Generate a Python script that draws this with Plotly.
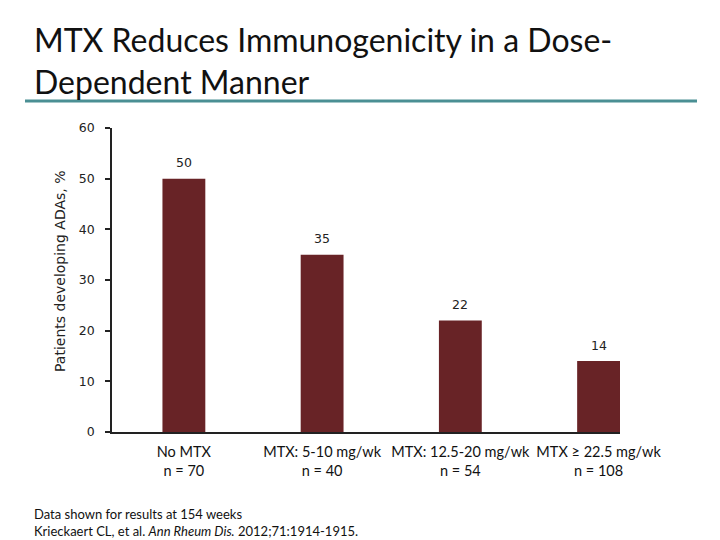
import plotly.graph_objects as go

categories = ["No MTX<br>n = 70", "MTX: 5-10 mg/wk<br>n = 40", "MTX: 12.5-20 mg/wk<br>n = 54", "MTX \u2265 22.5 mg/wk<br>n = 108"]
values = [50, 35, 22, 14]
y_ticks = [0, 10, 20, 30, 40, 50, 60]

OFF = 8  # browser body margin
W, H = 720 - OFF, 540 - OFF
L, R, T, B = 112 - OFF, 620 - OFF, 128 - OFF, 432 - OFF


def px(x):
    return (x - OFF - L) / (R - L)


def py(y):
    return (B - (y - OFF)) / (B - T)


fig = go.Figure()
fig.add_trace(go.Bar(
    x=list(range(len(categories))),
    y=values,
    width=0.31,
    marker=dict(color="#682326", line=dict(width=0)),
    cliponaxis=False,
))

fig.update_layout(
    width=W, height=H,
    margin=dict(l=L, r=W - R, t=T, b=H - B, pad=0),
    paper_bgcolor="white", plot_bgcolor="white",
    showlegend=False,
)
fig.update_xaxes(
    range=[-0.52, 3.155],
    tickmode="array",
    tickvals=list(range(len(categories))),
    ticktext=categories,
    showline=True, linecolor="#222222", linewidth=1.5,
    ticks="", showgrid=False, zeroline=False,
    tickfont=dict(family="Lato", size=14.5, color="#111111"),
    ticklabelstandoff=6,
)
fig.update_yaxes(
    range=[0, 60],
    tickmode="array", tickvals=y_ticks,
    showline=True, linecolor="#222222", linewidth=1.5,
    ticks="outside", ticklen=5, tickcolor="#222222", tickwidth=1.5,
    showgrid=False, zeroline=False,
    tickfont=dict(family="DejaVu Sans", size=12.5, color="#222222"),
    ticklabelstandoff=8,
)

annotations = [
    dict(text="MTX Reduces Immunogenicity in a Dose-<br>Dependent Manner",
         x=px(32), y=py(18), xref="paper", yref="paper",
         xanchor="left", yanchor="top", align="left", showarrow=False,
         font=dict(family="Lato", size=32, color="#111111")),
    dict(text="Patients developing ADAs, %",
         x=px(60), y=py(271), xref="paper", yref="paper",
         xanchor="center", yanchor="middle", textangle=-90, showarrow=False,
         font=dict(family="DejaVu Sans", size=14, color="#222222")),
    dict(text="Data shown for results at 154 weeks<br>Krieckaert CL, et al. <i>Ann Rheum Dis.</i> 2012;71:1914-1915.",
         x=px(32), y=py(504), xref="paper", yref="paper",
         xanchor="left", yanchor="top", align="left", showarrow=False,
         font=dict(family="Lato", size=13, color="#111111")),
]
for i, v in enumerate(values):
    annotations.append(dict(
        text=str(v), x=i, y=v, xref="x", yref="y",
        yshift=16, showarrow=False, yanchor="middle",
        font=dict(family="DejaVu Sans", size=12.5, color="#222222")))
fig.update_layout(annotations=annotations)

fig.add_shape(type="line", xref="paper", yref="paper",
              x0=px(25), x1=px(697), y0=py(101), y1=py(101),
              line=dict(color="#4a8f94", width=3))

fig.write_html("out.html")
